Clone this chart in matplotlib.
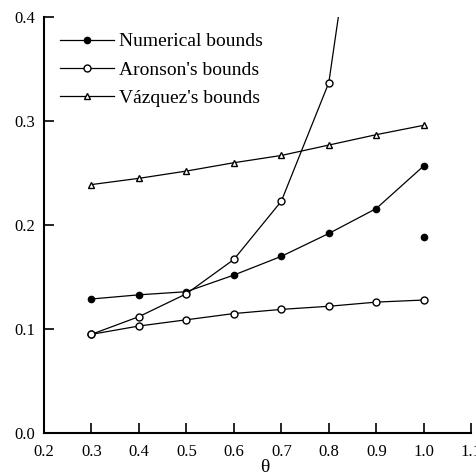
import matplotlib
matplotlib.use('Agg')
import matplotlib.pyplot as plt

plt.rcParams['font.family'] = ['Liberation Serif', 'DejaVu Serif']

theta = [0.3, 0.4, 0.5, 0.6, 0.7, 0.8, 0.9, 1.0]
numerical = [0.129, 0.133, 0.136, 0.152, 0.170, 0.192, 0.216, 0.257]
numerical_extra_x = [1.0]
numerical_extra_y = [0.189]
aronson_upper_x = [0.3, 0.4, 0.5, 0.6, 0.7, 0.8, 0.9]
aronson_upper = [0.095, 0.112, 0.134, 0.167, 0.223, 0.337, 0.652]
aronson_lower = [0.095, 0.103, 0.109, 0.115, 0.119, 0.122, 0.126, 0.128]
vazquez = [0.239, 0.245, 0.252, 0.260, 0.267, 0.277, 0.287, 0.296]

xticks = [0.2, 0.3, 0.4, 0.5, 0.6, 0.7, 0.8, 0.9, 1.0, 1.1]
xticklabels = ['0.2', '0.3', '0.4', '0.5', '0.6', '0.7', '0.8', '0.9', '1.0', '1.1']
yticks = [0.0, 0.1, 0.2, 0.3, 0.4]

fig = plt.figure(figsize=(4.77, 4.76), dpi=100)
ax = fig.add_axes([0.092, 0.090, 0.896, 0.874])

lw = 0.9
ax.plot(theta, numerical, '-', color='black', lw=lw, marker='o', ms=4.5,
        mfc='black', mec='black', label='Numerical bounds')
ax.plot(numerical_extra_x, numerical_extra_y, 'o', color='black', ms=4.5)
ax.plot(aronson_upper_x, aronson_upper, '-', color='black', lw=lw, marker='o', ms=5,
        mfc='white', mec='black', label="Aronson's bounds")
ax.plot(theta, aronson_lower, '-', color='black', lw=lw, marker='o', ms=5,
        mfc='white', mec='black')
ax.plot(theta, vazquez, '-', color='black', lw=lw, marker='^', ms=4.5,
        mfc='white', mec='black', label="Vázquez's bounds")

ax.set_xlim(0.2, 1.1)
ax.set_ylim(0.0, 0.4)
ax.set_xticks(xticks)
ax.set_xticklabels(xticklabels)
ax.set_yticks(yticks)
ax.set_yticklabels(['0.0', '0.1', '0.2', '0.3', '0.4'])
ax.tick_params(direction='in', length=7, width=1.2, labelsize=12)
ax.tick_params(axis='x', pad=8)
ax.tick_params(axis='y', pad=6)
ax.spines['top'].set_visible(False)
ax.spines['right'].set_visible(False)
ax.spines['left'].set_linewidth(1.5)
ax.spines['bottom'].set_linewidth(1.5)
ax.set_xlabel('θ', fontsize=14)
ax.xaxis.set_label_coords(0.516, -0.062)

ax.legend(loc='upper left', frameon=False, fontsize=14, handlelength=2.8,
          handletextpad=0.25, labelspacing=0.55, borderaxespad=0.3,
          bbox_to_anchor=(0.005, 0.995))

fig.savefig('out.png', dpi=100)
